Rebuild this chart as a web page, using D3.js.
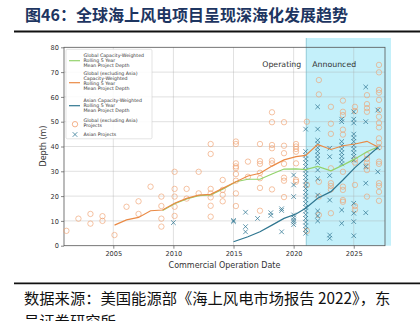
<!DOCTYPE html>
<html><head><meta charset="utf-8">
<script src="https://cdn.jsdelivr.net/npm/d3@7"></script>
<style>body{margin:0;background:#fff}svg{display:block}</style>
</head><body>
<svg id="c" width="420" height="321"></svg>
<script>
// ---- data ----
const titleText = "图46：全球海上风电项目呈现深海化发展趋势";
const sourceLine1 = "数据来源：美国能源部《海上风电市场报告 2022》，东";
const sourceLine2 = "吴证券研究所";
const xTicks = [2005, 2010, 2015, 2020, 2025];
const yTicks = [0, 10, 20, 30, 40, 50, 60, 70, 80];
const legendLabels = [
  ["Global Capacity-Weighted", "Rolling 5 Year", "Mean Project Depth"],
  ["Global (excluding Asia)", "Capacity-Weighted", "Rolling 5 Year", "Mean Project Depth"],
  ["Asian Capacity-Weighted", "Rolling 5 Year", "Mean Project Depth"],
  ["Global (excluding Asia)", "Projects"],
  ["Asian Projects"]
];
// rolling mean lines [year, depth]
const globalLine = [[2009.1,14.2],[2010.1,16.9],[2011.1,18.9],[2012.1,20.2],[2013.1,20.5],[2014.1,22.8],[2015.2,25.8],[2016.2,26.8],[2017.2,26.8],[2018.2,28.9],[2019.2,30.9],[2020.2,31.0],[2021.0,30.7],[2022.0,32.0],[2023.1,30.2],[2024.1,32.5],[2025.1,35.0],[2026.1,37.9],[2027.0,39.8]];
const exAsiaLine = [[2005.1,8.3],[2006.1,10.4],[2007.1,11.4],[2008.1,14.1],[2009.1,14.4],[2010.1,17.1],[2011.1,19.1],[2012.1,20.4],[2013.1,20.7],[2014.1,23.1],[2015.2,25.8],[2016.2,28.1],[2017.2,29.2],[2018.2,32.1],[2019.2,34.6],[2020.2,35.9],[2021.0,36.4],[2022.0,40.8],[2023.1,38.8],[2024.1,40.3],[2025.1,41.0],[2026.1,42.1],[2027.0,39.8]];
const asiaLine = [[2015.0,1.6],[2016.2,3.6],[2017.2,5.6],[2018.2,8.3],[2019.2,11.0],[2020.2,12.8],[2021.0,15.1],[2022.0,19.1],[2023.1,21.8],[2024.1,26.5],[2025.1,31.5],[2026.1,35.8],[2027.0,39.6]];
// project points [year, depth]
const exAsiaProjects = [
 [2001.1,6.0],[2002.1,10.9],[2003.1,12.8],[2003.1,8.9],[2004.1,11.9],[2004.1,10.0],[2005.1,4.3],[2006.1,15.7],
 [2007.1,17.9],[2007.1,12.8],[2008.1,23.8],[2009.0,19.8],[2009.0,16.0],[2009.0,10.9],[2009.0,7.7],
 [2010.1,29.8],[2010.1,22.9],[2010.1,19.8],[2010.1,15.7],[2010.1,12.0],[2011.1,22.9],[2011.1,19.0],
 [2012.1,29.8],[2012.1,21.1],[2013.1,41.0],[2013.1,37.0],[2013.1,22.9],[2013.1,21.1],[2013.1,19.5],[2013.1,16.1],[2013.1,11.7],
 [2014.1,26.5],[2014.1,22.5],[2014.1,20.5],[2014.1,17.9],
 [2015.2,42.0],[2015.2,41.0],[2015.2,33.2],[2015.2,32.0],[2015.2,31.3],[2015.2,28.9],[2015.2,26.2],[2015.2,21.1],[2015.2,16.0],
 [2016.2,33.9],[2016.2,27.8],
 [2017.2,41.0],[2017.2,34.1],[2017.2,33.0],[2017.2,29.4],[2017.2,27.2],[2017.2,23.3],[2017.2,14.1],
 [2018.2,53.8],[2018.2,49.8],[2018.2,40.6],[2018.2,39.3],[2018.2,34.3],[2018.2,33.2],[2018.2,22.7],
 [2019.2,49.8],[2019.2,40.3],[2019.2,37.3],[2019.2,33.0],[2019.2,27.4],[2019.2,26.2],[2019.2,19.6],
 [2020.2,41.0],[2020.2,40.0],[2020.2,39.0],[2020.2,37.9],[2020.2,33.2],[2020.2,26.5],[2020.2,25.8],
 [2021.1,50.0],[2021.1,24.5],[2021.1,6.0],
 [2022.1,66.8],[2022.1,61.0],[2022.1,25.8],[2022.1,19.8],[2022.1,12.4],
 [2023.1,56.0],[2023.1,49.2],[2023.1,45.1],[2023.1,31.2],[2023.1,25.2],[2023.1,24.1],[2023.1,22.7],[2023.1,13.1],
 [2024.1,58.5],[2024.1,54.0],[2024.1,52.7],[2024.1,46.8],[2024.1,44.8],[2024.1,29.8],[2024.1,23.8],[2024.1,22.5],[2024.1,18.4],[2024.1,17.7],
 [2025.1,56.0],[2025.1,54.3],[2025.1,34.8],[2025.1,33.5],[2025.1,24.5],[2025.1,16.0],[2025.1,14.5],
 [2026.1,60.7],[2026.1,57.1],[2026.1,55.5],[2026.1,54.0],[2026.1,36.6],[2026.1,35.0],[2026.1,33.5],[2026.1,32.0],[2026.1,30.5],[2026.1,19.8],
 [2027.1,72.9],[2027.1,69.9],[2027.1,62.8],[2027.1,61.7],[2027.1,58.8],[2027.1,54.7],[2027.1,52.0],[2027.1,49.5],[2027.1,47.7],[2027.1,43.3],
 [2027.1,41.5],[2027.1,39.7],[2027.1,33.9],[2027.1,33.0],[2027.1,25.2],[2027.1,24.1],[2027.1,21.7],[2027.1,18.1]
];
const asiaProjects = [
 [2010.0,9.3],[2015.0,9.7],[2015.0,10.2],[2016.0,13.5],[2016.0,7.7],[2016.0,5.6],[2017.0,11.0],[2018.1,13.3],[2018.1,12.2],
 [2019.0,14.9],[2019.0,14.2],[2019.0,5.6],
 [2020.0,28.5],[2020.0,24.5],[2020.0,19.8],[2020.0,12.4],[2020.0,11.3],[2020.0,10.3],[2020.0,9.5],[2020.0,8.5],
 [2021.0,47.0],[2021.0,38.0],[2021.0,36.5],[2021.0,35.0],[2021.0,33.5],[2021.0,32.0],[2021.0,30.5],[2021.0,29.0],[2021.0,27.5],
 [2021.0,26.0],[2021.0,24.5],[2021.0,23.0],[2021.0,21.5],[2021.0,20.0],[2021.0,18.5],[2021.0,17.0],[2021.0,15.5],[2021.0,14.0],
 [2021.0,12.5],[2021.0,11.0],[2021.0,9.5],[2021.0,8.0],[2021.0,6.5],[2021.0,5.0],
 [2022.0,56.0],[2022.0,47.0],[2022.0,42.5],[2022.0,41.0],[2022.0,39.5],[2022.0,38.0],[2022.0,36.5],[2022.0,35.0],[2022.0,33.5],
 [2022.0,30.5],[2022.0,27.0],[2022.0,20.4],[2022.0,14.0],[2022.0,12.0],[2022.0,10.0],
 [2023.0,39.3],[2023.0,35.9],[2023.0,28.3],[2023.0,18.4],[2023.0,4.3],[2023.0,3.0],
 [2024.0,51.0],[2024.0,50.0],[2024.0,42.0],[2024.0,40.5],[2024.0,39.0],[2024.0,37.5],[2024.0,36.0],[2024.0,34.5],[2024.0,33.0],[2024.0,14.4],[2024.0,9.0],
 [2025.0,54.0],[2025.0,51.0],[2025.0,49.5],[2025.0,45.0],[2025.0,43.5],[2025.0,42.0],[2025.0,40.5],[2025.0,39.0],[2025.0,37.5],[2025.0,36.0],[2025.0,34.5],
 [2025.0,17.1],[2025.0,13.1],[2025.0,9.7],[2025.0,4.0],
 [2026.0,64.0],[2026.0,50.0],[2026.0,31.9],[2026.0,25.2],[2026.0,13.3],
 [2027.0,54.7],[2027.0,39.5],[2027.0,29.8]
];
const announcedStart = 2021.05;

// ---- drawing ----
const svg = d3.select("#c");
const x = d3.scaleLinear().domain([2000.9, 2027.6]).range([64, 385]);
const y = d3.scaleLinear().domain([0, 80]).range([245.7, 47.3]);
const ORANGE_PT = "#f0a070", ORANGE_LN = "#ea8a45", GREEN = "#93d36c", BLUE_LN = "#2f7690", BLUE_PT = "#357a96";

// title
svg.append("text").attr("x", 25).attr("y", 20.5).text(titleText)
  .attr("font-family", "Noto Sans CJK SC").attr("font-weight", 700).attr("font-size", 16).attr("fill", "#1d3561");
svg.append("line").attr("x1", 14).attr("x2", 420).attr("y1", 31.5).attr("y2", 31.5).attr("stroke", "#111").attr("stroke-width", 1.8);

// announced shading
svg.append("rect").attr("x", x(announcedStart)).attr("y", 38).attr("width", 391 - x(announcedStart)).attr("height", y(0) - 38)
  .attr("fill", "#c4f0fa");
svg.append("line").attr("x1", x(announcedStart)).attr("x2", x(announcedStart)).attr("y1", 38).attr("y2", y(0))
  .attr("stroke", "#7fbfcf").attr("stroke-width", 0.8);

// grid
const g = svg.append("g");
g.selectAll(".gx").data(xTicks).join("line").attr("x1", d => x(d)).attr("x2", d => x(d)).attr("y1", y(80)).attr("y2", y(0))
  .attr("stroke", "#a8a8a8").attr("stroke-opacity", 0.4).attr("stroke-width", 0.9);
g.selectAll(".gy").data(yTicks.slice(1, -1)).join("line").attr("x1", x.range()[0]).attr("x2", x.range()[1]).attr("y1", d => y(d)).attr("y2", d => y(d))
  .attr("stroke", "#a8a8a8").attr("stroke-opacity", 0.4).attr("stroke-width", 0.9);

// axes
const yAxis = svg.append("g").attr("transform", `translate(${x.range()[0]},0)`)
  .call(d3.axisLeft(y).tickValues(yTicks).tickSize(3).tickPadding(2).tickFormat(d3.format("d")));
const xAxis = svg.append("g").attr("transform", `translate(0,${y(0)})`)
  .call(d3.axisBottom(x).tickValues(xTicks).tickSize(3).tickPadding(2.5).tickFormat(d3.format("d")));
[yAxis, xAxis].forEach(a => {
  a.select(".domain").remove();
  a.selectAll("line").attr("stroke", "#555").attr("stroke-width", 0.7);
  a.selectAll("text").attr("font-family", "DejaVu Sans").attr("font-size", 6.6).attr("fill", "#333");
});
// frame
svg.append("rect").attr("x", x.range()[0]).attr("y", y(80)).attr("width", x.range()[1] - x.range()[0]).attr("height", y(0) - y(80))
  .attr("fill", "none").attr("stroke", "#555").attr("stroke-width", 0.8);

// region labels
svg.append("text").attr("x", x(announcedStart) - 5).attr("y", 67).attr("text-anchor", "end").text("Operating")
  .attr("font-family", "DejaVu Sans").attr("font-size", 7.8).attr("fill", "#333");
svg.append("text").attr("x", x(announcedStart) + 6).attr("y", 67).text("Announced")
  .attr("font-family", "DejaVu Sans").attr("font-size", 7.8).attr("fill", "#333");

// scatter
const xPath = s => `M${-s},${-s}L${s},${s}M${-s},${s}L${s},${-s}`;
svg.append("g").selectAll("circle").data(exAsiaProjects).join("circle")
  .attr("cx", d => x(d[0])).attr("cy", d => y(d[1])).attr("r", 2.7)
  .attr("fill", "none").attr("stroke", ORANGE_PT).attr("stroke-width", 0.8).attr("stroke-opacity", 0.8);
svg.append("g").selectAll("path").data(asiaProjects).join("path")
  .attr("transform", d => `translate(${x(d[0])},${y(d[1])})`).attr("d", xPath(2.3))
  .attr("fill", "none").attr("stroke", BLUE_PT).attr("stroke-width", 0.9).attr("stroke-opacity", 0.85);

// lines
const line = d3.line().x(d => x(d[0])).y(d => y(d[1]));
[[globalLine, GREEN], [exAsiaLine, ORANGE_LN], [asiaLine, BLUE_LN]].forEach(([data, col]) => {
  svg.append("path").attr("d", line(data)).attr("fill", "none").attr("stroke", col).attr("stroke-width", 1.2);
});

// axis labels
svg.append("text").attr("x", 224.5).attr("y", 268).attr("text-anchor", "middle").text("Commercial Operation Date")
  .attr("font-family", "DejaVu Sans").attr("font-size", 8).attr("fill", "#333");
svg.append("text").attr("transform", "translate(46,146) rotate(-90)").attr("text-anchor", "middle").text("Depth (m)")
  .attr("font-family", "DejaVu Sans").attr("font-size", 8).attr("fill", "#333");

// legend
const lg = svg.append("g");
lg.append("rect").attr("x", 66).attr("y", 49.3).attr("width", 86).attr("height", 89.5).attr("rx", 1.5)
  .attr("fill", "#fff").attr("fill-opacity", 0.85).attr("stroke", "#d0d0d0").attr("stroke-width", 0.6);
const textStarts = [55.5, 73.8, 100.5, 120.5, 134.8];
const handleY = [60.7, 82.7, 105.7, 124.2, 134.5];
const handleColors = [GREEN, ORANGE_LN, BLUE_LN];
legendLabels.forEach((lines, i) => {
  lines.forEach((t, j) => {
    lg.append("text").attr("x", 83.5).attr("y", textStarts[i] + j * 4.95 + 1.6).text(t)
      .attr("font-family", "DejaVu Sans").attr("font-size", 4.7).attr("fill", "#333");
  });
  if (i < 3) {
    lg.append("line").attr("x1", 69).attr("x2", 80).attr("y1", handleY[i]).attr("y2", handleY[i])
      .attr("stroke", handleColors[i]).attr("stroke-width", 1.2);
  } else if (i === 3) {
    lg.append("circle").attr("cx", 75).attr("cy", handleY[i]).attr("r", 2.7).attr("fill", "none")
      .attr("stroke", ORANGE_PT).attr("stroke-width", 0.8);
  } else {
    lg.append("path").attr("transform", `translate(75,${handleY[i]})`).attr("d", xPath(2.3))
      .attr("fill", "none").attr("stroke", BLUE_PT).attr("stroke-width", 0.8);
  }
});

// source
svg.append("line").attr("x1", 14).attr("x2", 420).attr("y1", 283.3).attr("y2", 283.3).attr("stroke", "#111").attr("stroke-width", 1.8);
svg.append("text").attr("x", 24).attr("y", 304).text(sourceLine1)
  .attr("font-family", "Noto Sans CJK SC").attr("font-size", 15.3).attr("fill", "#111");
svg.append("text").attr("x", 24).attr("y", 327).text(sourceLine2)
  .attr("font-family", "Noto Sans CJK SC").attr("font-size", 15.3).attr("fill", "#111");
</script>
</body></html>
